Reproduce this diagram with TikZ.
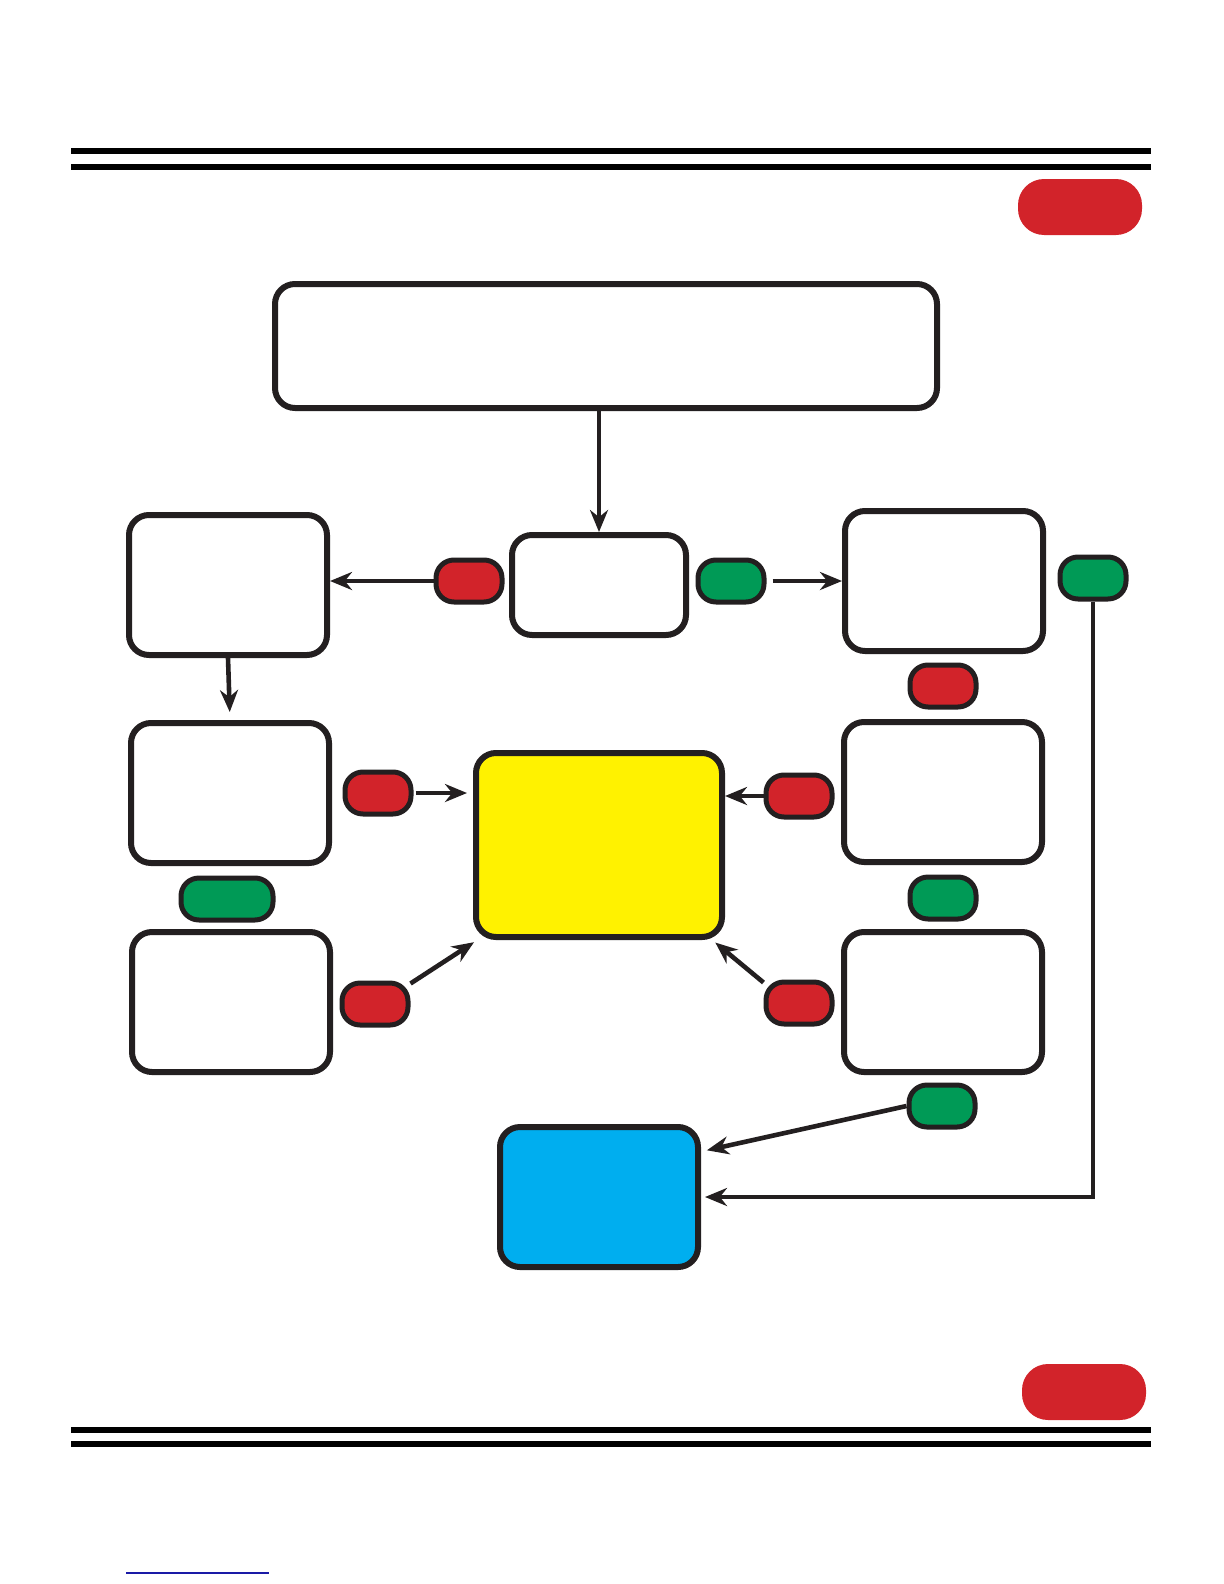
\documentclass[tikz,border=0pt]{standalone}
\usetikzlibrary{arrows.meta}

\definecolor{inkblack}{HTML}{231F20}
\definecolor{stopred}{HTML}{D2232A}
\definecolor{gogreen}{HTML}{009A56}
\definecolor{hiyellow}{HTML}{FFF200}
\definecolor{endblue}{HTML}{00AEEF}
\definecolor{linkblue}{HTML}{1A1AA6}

\tikzset{
  box/.style={draw=inkblack, line width=3pt, rounded corners=10pt, fill=white,
    minimum width=99pt, minimum height=70pt, inner sep=0pt},
  pill/.style={draw=inkblack, line width=2.5pt, rounded corners=9pt,
    minimum width=33pt, minimum height=21pt, inner sep=0pt},
  nopill/.style={pill, fill=stopred},
  yespill/.style={pill, fill=gogreen},
  tab/.style={fill=stopred, rounded corners=13pt, minimum width=62pt,
    minimum height=28pt, inner sep=0pt},
  flow/.style={draw=inkblack, line width=2.3pt, -{Stealth[length=11pt,width=9pt]}}
}

\begin{document}
\begin{tikzpicture}[x=0.5pt,y=-0.5pt]
            \useasboundingbox (0,0) rectangle (1224,1584);

            % header and footer rules
            \draw[line width=3pt] (71,151) -- (1151,151);
            \draw[line width=3pt] (71,167) -- (1151,167);
            \draw[line width=3pt] (71,1430) -- (1151,1430);
            \draw[line width=3pt] (71,1444) -- (1151,1444);
            \draw[linkblue, line width=0.8pt] (126,1573) -- (269,1573);

            \node[tab] (toptab) at (1080,207) {};
            \node[tab] (bottab) at (1084,1392) {};

            % boxes
            \node[box, minimum width=331pt, minimum height=62pt] (start) at (606,346) {};
            \node[box, minimum width=87pt, minimum height=50pt] (check) at (599,585) {};
            \node[box] (left1) at (228,585) {};
            \node[box] (right1) at (944,581) {};
            \node[box] (left2) at (230,793) {};
            \node[box] (right2) at (943,792) {};
            \node[box] (left3) at (231,1002) {};
            \node[box] (right3) at (943,1002) {};
            \node[box, fill=hiyellow, minimum width=123pt, minimum height=92pt] (core) at (599,845) {};
            \node[box, fill=endblue] (done) at (599,1197) {};

            % answer pills
            \node[nopill] (no1) at (469,581) {};
            \node[yespill] (yes1) at (731,581) {};
            \node[yespill] (yes2) at (1093,578) {};
            \node[nopill] (no2) at (943,686) {};
            \node[nopill] (no3) at (378,793) {};
            \node[nopill] (no4) at (799,796) {};
            \node[yespill, minimum width=46pt] (yes3) at (227,899) {};
            \node[yespill] (yes4) at (943,898) {};
            \node[nopill] (no5) at (375,1004) {};
            \node[nopill] (no6) at (799,1003) {};
            \node[yespill] (yes5) at (942,1106) {};

            % connectors
            \draw[flow] (check.north |- start.south) -- (check.north);
            \draw[flow] (no1.west) -- (no1.west -| left1.east);
            \draw[flow, shorten <=3pt] (yes1.east) -- (yes1.east -| right1.west);
            \draw[flow, shorten >=4pt] (left1.south) -- (left2.north);
            \draw[flow, shorten <=1pt, shorten >=3pt] (no3.east) -- (no3.east -| core.west);
            \draw[flow] (no4.west) -- (no4.west -| core.east);
            \draw[flow, shorten >=2pt] (no5.30) -- (core.218);
            \draw[flow, shorten >=2pt] (no6.150) -- (core.-40);
            \draw[flow, shorten >=3pt] (yes5.west) -- (done.24);
            \draw[flow, shorten >=2pt] (yes2.south) |- (done.east);
        \end{tikzpicture}
\end{document}
